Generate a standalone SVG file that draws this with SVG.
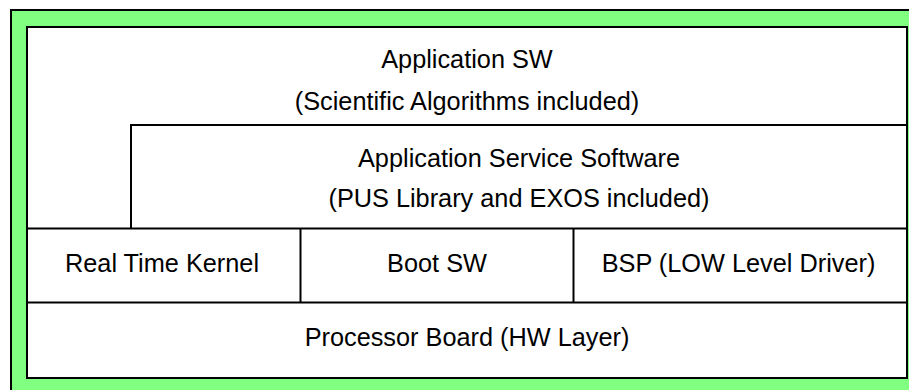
<svg xmlns="http://www.w3.org/2000/svg" width="909" height="390" viewBox="0 0 909 390">
<style>
.box{fill:#fff;stroke:#000;stroke-width:2}
.ln{stroke:#000;stroke-width:2;fill:none}
text{font-family:"Liberation Sans",Arial,sans-serif;font-size:25.3px;fill:#000;text-anchor:middle}
</style>
<rect x="0" y="0" width="909" height="390" fill="#fff"/>
<g id="frame">
<rect x="11" y="10" width="910" height="400" fill="#80ff80" stroke="#000" stroke-width="2"/>
<rect class="box" x="27" y="27" width="880" height="351"/>
</g>
<g id="connectors">
<polyline class="ln" points="131,228 131,125 907,125"/>
<line class="ln" x1="27" y1="228.5" x2="907" y2="228.5"/>
<line class="ln" x1="27" y1="302.5" x2="907" y2="302.5"/>
<line class="ln" x1="300.5" y1="228.5" x2="300.5" y2="302.5"/>
<line class="ln" x1="573.5" y1="228.5" x2="573.5" y2="302.5"/>
</g>
<g id="app-sw">
<text x="467" y="67.5">Application SW</text>
<text x="467" y="109.5">(Scientific Algorithms included)</text>
</g>
<g id="app-service">
<text x="519" y="166.5">Application Service Software</text>
<text x="519" y="206.5">(PUS Library and EXOS included)</text>
</g>
<g id="rtk"><text x="162" y="272">Real Time Kernel</text></g>
<g id="boot"><text x="437" y="272">Boot SW</text></g>
<g id="bsp"><text x="738.5" y="272">BSP (LOW Level Driver)</text></g>
<g id="board"><text x="467" y="345.5">Processor Board (HW Layer)</text></g>
</svg>
